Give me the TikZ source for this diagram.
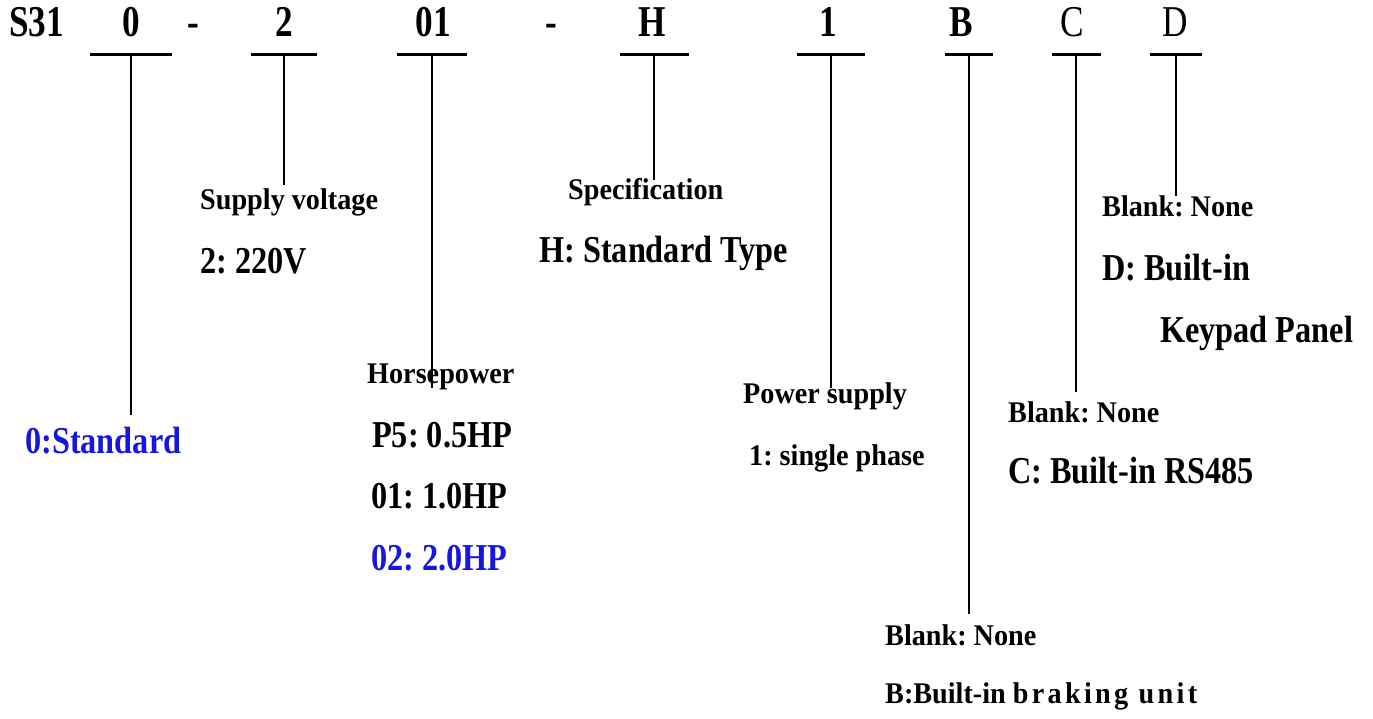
\documentclass[tikz,border=0pt]{standalone}
\usepackage{fontspec}
\setmainfont{Liberation Serif}
\newfontfamily\topfont{Liberation Serif}[FakeStretch=0.8]
\newfontfamily\valfont{Liberation Serif}[FakeStretch=0.85]
\newfontfamily\lblfont{Liberation Serif}[FakeStretch=0.94]
\definecolor{codeblue}{RGB}{22,22,225}
\frenchspacing
\begin{document}
\begin{tikzpicture}[x=1pt,y=-1pt,
  code/.style={inner sep=0pt, anchor=base, font=\topfont\bfseries\fontsize{44}{44}\selectfont},
  bar/.style={fill=black, inner sep=0pt, minimum height=3pt},
  lbl/.style={inner sep=0pt, anchor=base west, font=\lblfont\bfseries\fontsize{30}{30}\selectfont},
  val/.style={inner sep=0pt, anchor=base west, font=\valfont\bfseries\fontsize{38}{38}\selectfont},
  lead/.style={line width=2pt}]
\useasboundingbox (0,0) rectangle (1373,719);
% model code
\node[code, anchor=base west] (s) at (9,37) {S31};
\node[code] (c0) at (131,37) {0};
\node[code] (d1) at (193,37) {-};
\node[code] (c2) at (284,37) {2};
\node[code] (c01) at (433,37) {01};
\node[code] (d2) at (551,37) {-};
\node[code] (ch) at (652,37) {H};
\node[code] (c1) at (828,37) {1};
\node[code] (cb) at (961,37) {B};
\node[code, font=\topfont\fontsize{44}{44}\selectfont] (cc) at (1072,37) {C};
\node[code, font=\topfont\fontsize{44}{44}\selectfont] (cd) at (1175,37) {D};
% bars
\node[bar, minimum width=82pt] (b0) at (131,55) {};
\node[bar, minimum width=66pt] (b2) at (284,55) {};
\node[bar, minimum width=70pt] (b01) at (432,55) {};
\node[bar, minimum width=69pt] (bh) at (654,55) {};
\node[bar, minimum width=68pt] (b1) at (831,55) {};
\node[bar, minimum width=48pt] (bb) at (969,55) {};
\node[bar, minimum width=49pt] (bc) at (1076,55) {};
\node[bar, minimum width=52pt] (bd) at (1176,55) {};
% lead ends
\coordinate (e0) at (131,415);
\coordinate (e2) at (284,185);
\coordinate (e01) at (432,388);
\coordinate (eh) at (654,180);
\coordinate (e1) at (831,388);
\coordinate (eb) at (969,614);
\coordinate (ec) at (1076,392);
\coordinate (ed) at (1176,196);
\foreach \b/\e in {b0/e0, b2/e2, b01/e01, bh/eh, b1/e1, bb/eb, bc/ec, bd/ed}
  \draw[lead] (\b.center) -- (\e);
% descriptions
\node[val, text=codeblue] (std) at (25,453) {0:Standard};
\node[lbl] (sv) at (200,210) {Supply voltage};
\node[val] (sv1) at (200,273) {2: 220V};
\node[lbl] (hp) at (367,383) {Horsepower};
\node[val] (hp1) at (372,447) {P5: 0.5HP};
\node[val] (hp2) at (371,508) {01: 1.0HP};
\node[val, text=codeblue] (hp3) at (371,570) {02: 2.0HP};
\node[lbl] (sp) at (568,200) {Specification};
\node[val] (sp1) at (539,263) {H: Standard Type};
\node[lbl] (ps) at (743,403) {Power supply};
\node[lbl] (ps1) at (749,465) {1: single phase};
\node[lbl] (bn) at (885,645) {Blank: None};
\node[lbl] (bn1) at (885,703) {B:Built-in {\addfontfeature{LetterSpace=11}braking unit}};
\node[lbl] (cn) at (1008,422) {Blank: None};
\node[val] (cn1) at (1008,483) {C: Built-in RS485};
\node[lbl] (dn) at (1102,217) {Blank: None};
\node[val] (dn1) at (1102,280) {D: Built-in};
\node[val] (dn2) at (1160,342) {Keypad Panel};
\end{tikzpicture}
\end{document}
